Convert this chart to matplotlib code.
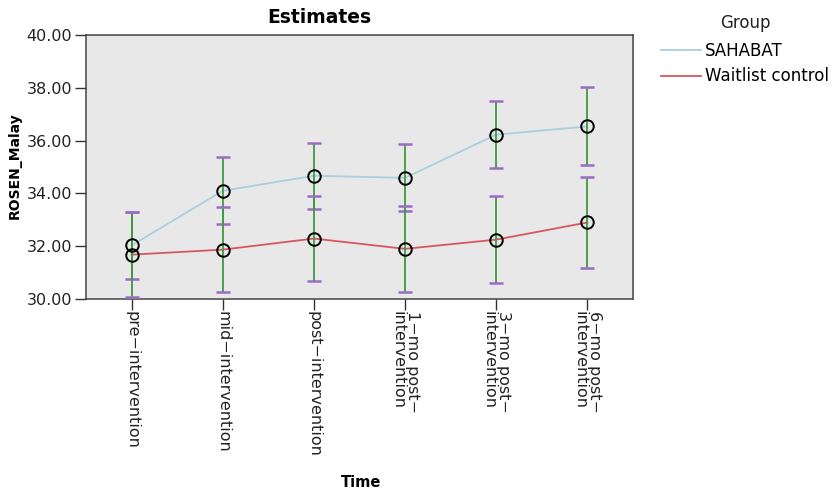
import matplotlib
matplotlib.use("Agg")
import matplotlib.pyplot as plt
import numpy as np

times = ["pre\u2212intervention", "mid\u2212intervention", "post\u2212intervention",
         "1\u2212mo post\u2212\nintervention", "3\u2212mo post\u2212\nintervention",
         "6\u2212mo post\u2212\nintervention"]
groups = ["SAHABAT", "Waitlist control"]
sahabat_mean = [32.03, 34.10, 34.67, 34.59, 36.23, 36.54]
sahabat_lo = [30.77, 32.86, 33.42, 33.33, 34.96, 35.09]
sahabat_hi = [33.29, 35.37, 35.92, 35.86, 37.52, 38.03]
waitlist_mean = [31.68, 31.87, 32.29, 31.90, 32.25, 32.90]
waitlist_lo = [30.09, 30.25, 30.67, 30.28, 30.59, 31.18]
waitlist_hi = [33.29, 33.49, 33.92, 33.54, 33.92, 34.63]
yticks = [30, 32, 34, 36, 38, 40]

plt.rcParams['font.family'] = ['DejaVu Sans']
fig = plt.figure(figsize=(8.35, 4.95), dpi=100)
ax = fig.add_axes([0.103, 0.396, 0.655, 0.533])
ax.set_facecolor("#e8e8e8")
x = np.arange(len(times))

series = [
    (sahabat_mean, sahabat_lo, sahabat_hi, "#a9cfe0"),
    (waitlist_mean, waitlist_lo, waitlist_hi, "#d5585e"),
]
handles = []
for (m, lo, hi, col), name in zip(series, groups):
    m = np.array(m); lo = np.array(lo); hi = np.array(hi)
    ln, = ax.plot(x, m, color=col, lw=1.3, zorder=2, label=name)
    handles.append(ln)
    eb = ax.errorbar(x, m, yerr=[m - lo, hi - m], fmt="none", ecolor="#3f9a3f",
                     elinewidth=1.3, capsize=5, capthick=1.8, zorder=3)
    for cl in eb[1]:
        cl.set_markeredgecolor("#9a6cc4")
        cl.set_color("#9a6cc4")
    ax.plot(x, m, "o", mfc="none", mec="black", mew=1.4, ms=9, zorder=4)

ax.set_xlim(-0.5, 5.5)
ax.set_ylim(30, 40)
ax.set_yticks(yticks)
ax.set_yticklabels([f"{v:.2f}" for v in yticks], fontsize=11.5, color="#222222")
ax.set_xticks(x)
ax.set_xticklabels(times, rotation=270, fontsize=11.5, va="top", ha="center",
                   multialignment="left", linespacing=1.0, color="#222222")
ax.tick_params(axis="x", length=8, width=1, color="#333333", pad=1)
ax.tick_params(axis="y", length=8, width=1, color="#333333", pad=2)
for s in ax.spines.values():
    s.set_color("#444444")
    s.set_linewidth(1.1)

fig.text(0.382, 0.965, "Estimates", fontsize=13.5, fontweight="bold",
         ha="center", va="center")
fig.text(0.018, 0.665, "ROSEN_Malay", fontsize=10, fontweight="bold",
         rotation=90, ha="center", va="center")
fig.text(0.432, 0.025, "Time", fontsize=10.5, fontweight="bold",
         ha="center", va="center")

leg = fig.legend(handles=handles, labels=groups, title="Group", loc="upper left",
                 bbox_to_anchor=(0.778, 0.995), frameon=False, fontsize=12,
                 title_fontsize=12, handlelength=2.4, handletextpad=0.2,
                 labelspacing=0.45, borderpad=0.2)
leg._legend_box.align = "center"
leg._legend_box.sep = 7
leg.get_title().set_color("#222222")

fig.savefig("out.png", dpi=100)
